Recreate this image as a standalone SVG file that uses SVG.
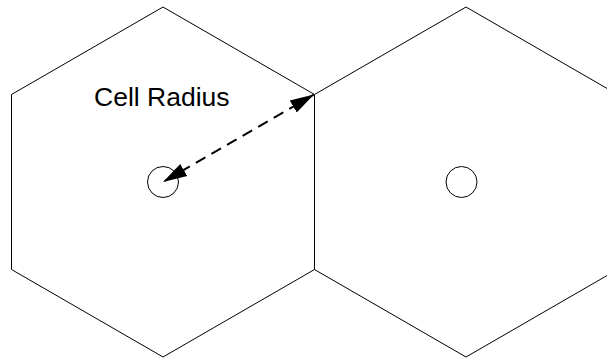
<svg xmlns="http://www.w3.org/2000/svg" width="607" height="358" viewBox="0 0 607 358">
<defs>
<marker id="ah" markerUnits="userSpaceOnUse" markerWidth="25" markerHeight="16" refX="24" refY="8" orient="auto-start-reverse">
<path d="M0,1 L24,8 L0,15 Z" fill="#000"/>
</marker>
</defs>
<style>
.hex{fill:#fff;stroke:#000;stroke-width:1}
.bs{fill:none;stroke:#000;stroke-width:1}
.lbl{font-family:"Liberation Sans",Arial,sans-serif;font-size:26.5px;fill:#000}
</style>
<rect width="607" height="358" fill="#fff"/>
<g id="cell-left">
<polygon class="hex" points="163,7 314.5,94.5 314.5,269.5 163,357 11.5,269.5 11.5,94.5"/>
<circle class="bs" cx="163" cy="182" r="15.5"/>
</g>
<g id="cell-right">
<polygon class="hex" points="466,7 617.5,94.5 617.5,269.5 466,357 314.5,269.5 314.5,94.5"/>
<circle class="bs" cx="461.5" cy="182" r="15.5"/>
</g>
<g id="label">
<text class="lbl" x="94" y="105.5">Cell Radius</text>
</g>
<g id="connectors">
<line x1="163" y1="182" x2="314" y2="94.5" stroke="#000" stroke-width="2" stroke-dasharray="11,7" stroke-dashoffset="-20" marker-start="url(#ah)" marker-end="url(#ah)"/>
</g>
</svg>
